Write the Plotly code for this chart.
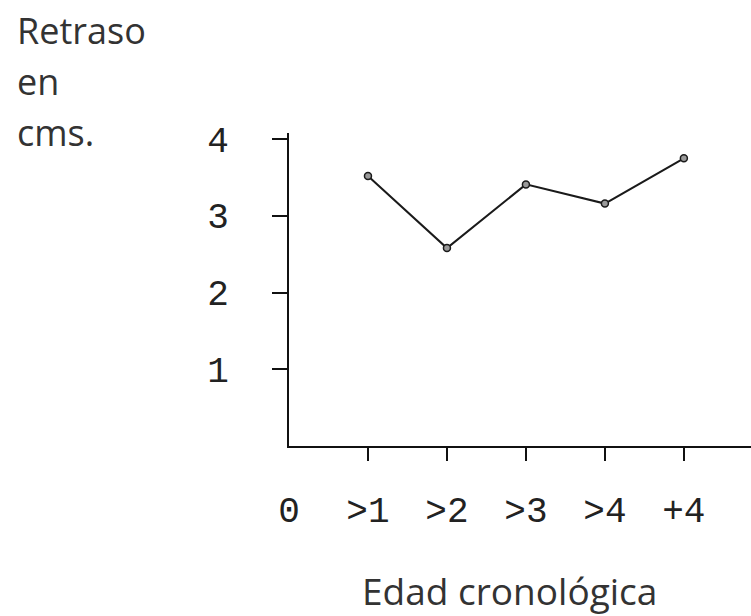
import plotly.graph_objects as go

# ---- data ----
x_positions = [0, 1, 2, 3, 4, 5]
x_labels = ["0", ">1", ">2", ">3", ">4", "+4"]
point_x = [1, 2, 3, 4, 5]
retraso_cm = [3.52, 2.58, 3.41, 3.16, 3.75]
y_ticks = [1, 2, 3, 4]
y_labels = ["1", "2", "3", "4"]
y_title_lines = ["Retraso", "en", "cms."]
x_title = "Edad cronológica"

W, H = 751, 616
L, R, T = 289, 0, 133
B = H - 446
PW, PH = W - L - R, H - T - B

fig = go.Figure()
fig.add_trace(go.Scatter(
    x=point_x, y=retraso_cm, mode="lines+markers",
    line=dict(color="#1a1a1a", width=2),
    marker=dict(symbol="circle", size=7, color="#9a9a9a",
                line=dict(color="#1a1a1a", width=1.5)),
    showlegend=False, hoverinfo="skip"))
# helper trace for the tick axis
fig.add_trace(go.Scatter(x=point_x, y=[None] * len(point_x), xaxis="x2",
                         mode="lines", showlegend=False, hoverinfo="skip"))

mono = "Liberation Mono"
fig.update_layout(
    width=W, height=H,
    margin=dict(l=L, r=R, t=T, b=B, autoexpand=False),
    paper_bgcolor="white", plot_bgcolor="white",
    xaxis=dict(range=[0, 5.85], tickmode="array", tickvals=x_positions,
               ticktext=x_labels, ticks="", showline=True, linecolor="#111",
               linewidth=2, showgrid=False, zeroline=False,
               tickfont=dict(family=mono, size=36, color="#222"),
               ticklabelstandoff=31),
    xaxis2=dict(range=[0, 5.85], overlaying="x", anchor="y", side="bottom",
                tickmode="array", tickvals=point_x, ticks="outside",
                ticklen=14, tickwidth=1.5, tickcolor="#111",
                showticklabels=False, showline=False, showgrid=False,
                zeroline=False),
    yaxis=dict(range=[0, 4.08], tickmode="array", tickvals=y_ticks,
               ticktext=y_labels, ticks="outside", ticklen=15,
               tickwidth=1.5, tickcolor="#111", showline=True,
               linecolor="#111", linewidth=2, showgrid=False,
               zeroline=False,
               tickfont=dict(family=mono, size=36, color="#222"),
               ticklabelstandoff=36),
)

title_font = dict(family="Open Sans", size=36, color="#333")
for i, line in enumerate(y_title_lines):
    fig.add_annotation(text=line, xref="paper", yref="paper",
                       x=-(L - 15) / PW, xanchor="left",
                       y=1 + (T - 45 - i * 51) / PH, yanchor="bottom",
                       yshift=-12, showarrow=False, font=title_font)

fig.add_annotation(text=x_title, xref="paper", yref="paper",
                   x=(509 - L) / PW, xanchor="center",
                   y=-B / PH, yanchor="bottom", yshift=-2,
                   showarrow=False,
                   font=dict(family="Open Sans", size=37, color="#333"))

fig.write_html(
    "out.html",
    config={"displayModeBar": False},
    post_script="document.body.style.margin='0';"
                "document.body.style.overflow='hidden';")
